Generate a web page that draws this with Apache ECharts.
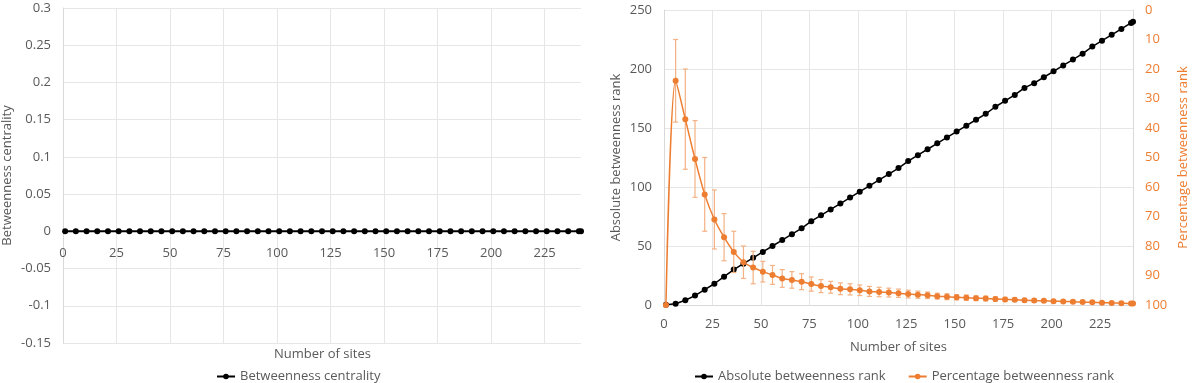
<!DOCTYPE html>
<html>
<head>
<meta charset="utf-8">
<script src="https://cdn.jsdelivr.net/npm/echarts@6/dist/echarts.min.js"></script>
<style>
  html, body { margin: 0; padding: 0; background: #fff; }
  #chart { width: 1192px; height: 383px; }
</style>
</head>
<body>
<div id="chart"></div>
<script>
// number of sites sampled
const sites = [1, 6, 11, 16, 21, 26, 31, 36, 41, 46, 51, 56, 61, 66, 71, 76, 81, 86, 91, 96,
  101, 106, 111, 116, 121, 126, 131, 136, 141, 146, 151, 156, 161, 166, 171, 176, 181, 186, 191, 196,
  201, 206, 211, 216, 221, 226, 231, 236, 241, 242];

const centrality = [0, 0, 0, 0, 0, 0, 0, 0, 0, 0, 0, 0, 0, 0, 0, 0, 0, 0, 0, 0,
  0, 0, 0, 0, 0, 0, 0, 0, 0, 0, 0, 0, 0, 0, 0, 0, 0, 0, 0, 0,
  0, 0, 0, 0, 0, 0, 0, 0, 0, 0];

const absoluteRank = [0.3, 1, 4, 8, 13, 18, 24, 30, 35, 40, 45, 50, 55, 60, 65, 71, 76, 81, 86, 91,
  96, 101, 106, 111, 116, 122, 127, 132, 137, 142, 147, 152, 157, 162, 168, 173, 178, 184, 188, 193,
  198, 203, 208, 213, 219, 224, 229, 234, 239, 240];

const percentRank = [100, 24, 37, 50.5, 62.5, 71, 77, 82, 85.5, 87.3, 88.7, 89.8, 91, 91.5, 92.1, 92.9, 93.6, 94, 94.5, 94.7,
  95, 95.4, 95.6, 95.8, 96, 96.3, 96.5, 96.7, 97, 97.2, 97.4, 97.5, 97.7, 97.8, 98, 98.1, 98.2, 98.4, 98.5, 98.6,
  98.7, 98.8, 98.9, 99, 99.1, 99.2, 99.3, 99.4, 99.5, 99.5];

const percentErr = [0, 14, 17, 13, 12.5, 10, 8, 7, 5.5, 5.5, 3.5, 3.2, 3, 2.8, 2.7, 2.4, 2.2, 2, 2, 1.9,
  1.8, 1.7, 1.6, 1.5, 1.4, 1.3, 1.2, 1.1, 1, 1, 0.9, 0.9, 0.8, 0.8, 0.7, 0.7, 0.6, 0.6, 0.5, 0.5,
  0.5, 0.4, 0.4, 0.4, 0.3, 0.3, 0.3, 0.3, 0.2, 0.2];

const xTicks = [0, 25, 50, 75, 100, 125, 150, 175, 200, 225];

const FONT = 'Open Sans';
const FS = 13;
const GRAY = '#595959';
const ORANGE = '#ED7D31';
const GRID_C = '#e6e6e6';

// left grid geometry (x axis sits where y = 0)
const L_TOP = 8, L_BOTTOM = 40, L_H = 383 - L_TOP - L_BOTTOM;
const Y_MIN = -0.15, Y_MAX = 0.3;
const zeroShift = -L_H * (0 - Y_MIN) / (Y_MAX - Y_MIN);

const chart = echarts.init(document.getElementById('chart'));

const pair = (ys) => sites.map((x, i) => [x, ys[i]]);

const txt = (color) => ({ color: color || GRAY, fontSize: FS, fontFamily: FONT });

const xAxisBase = {
  type: 'value', min: 0, max: 242,
  axisLine: { lineStyle: { color: '#d9d9d9' } },
  axisTick: { show: false, customValues: xTicks },
  axisLabel: Object.assign(txt(), { customValues: xTicks, margin: 13 }),
  splitLine: { show: true, lineStyle: { color: GRID_C } }
};

const option = {
  animation: false,
  textStyle: { fontFamily: FONT },
  grid: [
    { left: 63, right: 611, top: L_TOP, bottom: L_BOTTOM },
    { left: 664, right: 59, top: 10, bottom: 78 }
  ],
  legend: [
    {
      data: ['Betweenness centrality'],
      left: 211, top: 365, itemWidth: 18, itemHeight: 7, itemGap: 6,
      textStyle: txt()
    },
    {
      data: ['Absolute betweenness rank', 'Percentage betweenness rank'],
      left: 689, top: 365, itemWidth: 18, itemHeight: 7, itemGap: 22,
      textStyle: txt()
    }
  ],
  graphic: [{
    type: 'text', left: 274, top: 348,
    style: { text: 'Number of sites', fill: GRAY, font: FS + 'px "Open Sans"' }
  }],
  xAxis: [
    Object.assign({}, xAxisBase, {
      gridIndex: 0,
      offset: zeroShift,
      axisLine: { show: true, onZero: false, lineStyle: { color: '#d9d9d9' } },
      axisLabel: Object.assign(txt(), { customValues: xTicks, margin: 15 })
    }),
    Object.assign({}, xAxisBase, {
      gridIndex: 1,
      name: 'Number of sites', nameLocation: 'middle', nameGap: 36,
      nameTextStyle: txt()
    })
  ],
  yAxis: [
    {
      type: 'value', gridIndex: 0, min: Y_MIN, max: Y_MAX, interval: 0.05,
      name: 'Betweenness centrality', nameLocation: 'middle', nameGap: 49,
      nameTextStyle: txt(),
      axisLine: { show: true, onZero: false, lineStyle: { color: '#d9d9d9' } },
      axisTick: { show: false },
      axisLabel: Object.assign(txt(), { margin: 12 }),
      splitLine: { lineStyle: { color: GRID_C } }
    },
    {
      type: 'value', gridIndex: 1, min: 0, max: 250, interval: 50,
      name: 'Absolute betweenness rank', nameLocation: 'middle', nameGap: 41,
      nameTextStyle: txt(),
      axisLine: { show: true, lineStyle: { color: '#d9d9d9' } },
      axisTick: { show: false },
      axisLabel: Object.assign(txt(), { margin: 12 }),
      splitLine: { lineStyle: { color: GRID_C } }
    },
    {
      type: 'value', gridIndex: 1, position: 'right', inverse: true,
      min: 0, max: 100, interval: 10,
      name: 'Percentage betweenness rank', nameLocation: 'middle', nameGap: 44,
      nameTextStyle: txt(ORANGE),
      axisLine: { show: true, lineStyle: { color: '#d9d9d9' } },
      axisTick: { show: false },
      axisLabel: Object.assign(txt(ORANGE), { margin: 12 }),
      splitLine: { show: false }
    }
  ],
  series: [
    {
      name: 'Betweenness centrality', type: 'line',
      xAxisIndex: 0, yAxisIndex: 0,
      data: pair(centrality),
      symbol: 'circle', symbolSize: 6,
      color: '#000', lineStyle: { color: '#000', width: 2 }
    },
    {
      name: 'Absolute betweenness rank', type: 'line',
      xAxisIndex: 1, yAxisIndex: 1,
      data: pair(absoluteRank),
      symbol: 'circle', symbolSize: 6,
      color: '#000', lineStyle: { color: '#000', width: 1.5 }, z: 3
    },
    {
      name: 'errbars', type: 'custom',
      xAxisIndex: 1, yAxisIndex: 2,
      data: sites.map((x, i) => [x, percentRank[i] - percentErr[i], Math.min(100, percentRank[i] + percentErr[i])]),
      encode: { x: 0, y: [1, 2] },
      z: 4, silent: true,
      renderItem: function (params, api) {
        const top = api.coord([api.value(0), api.value(1)]);
        const bot = api.coord([api.value(0), api.value(2)]);
        const c = 2.5;
        const st = { stroke: '#F4B183', lineWidth: 1.2 };
        return {
          type: 'group',
          children: [
            { type: 'line', shape: { x1: top[0], y1: top[1], x2: bot[0], y2: bot[1] }, style: st },
            { type: 'line', shape: { x1: top[0] - c, y1: top[1], x2: top[0] + c, y2: top[1] }, style: st },
            { type: 'line', shape: { x1: bot[0] - c, y1: bot[1], x2: bot[0] + c, y2: bot[1] }, style: st }
          ]
        };
      }
    },
    {
      name: 'Percentage betweenness rank', type: 'line',
      xAxisIndex: 1, yAxisIndex: 2,
      data: pair(percentRank),
      smooth: 0.3,
      symbol: 'circle', symbolSize: 6,
      color: ORANGE, lineStyle: { color: ORANGE, width: 1.5 }, z: 5
    }
  ]
};

chart.setOption(option);
</script>
</body>
</html>
